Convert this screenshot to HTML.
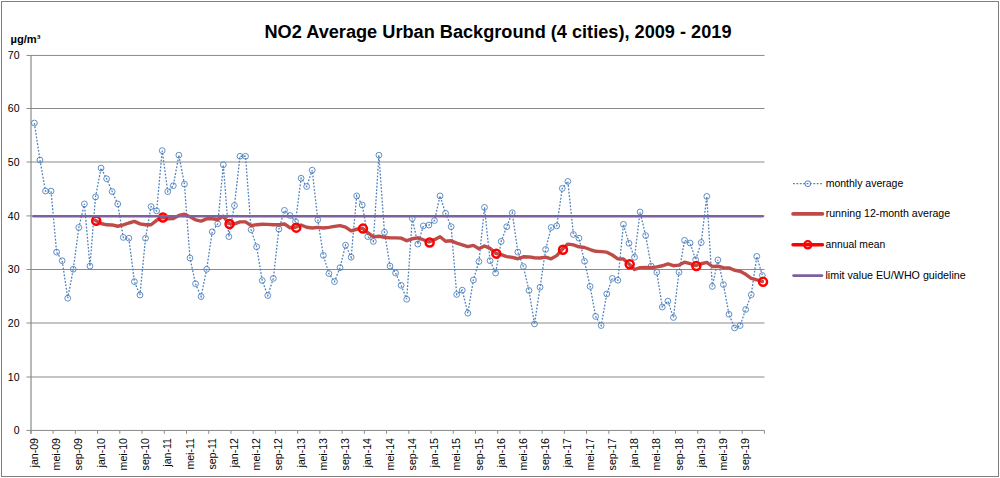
<!DOCTYPE html>
<html><head><meta charset="utf-8"><title>NO2 Average Urban Background</title>
<style>
html,body{margin:0;padding:0;background:#fff;}
body{width:1000px;height:478px;overflow:hidden;font-family:"Liberation Sans",sans-serif;}
svg{display:block;font-family:"Liberation Sans",sans-serif;}
</style></head><body>
<svg width="1000" height="478" viewBox="0 0 1000 478">
<rect x="0" y="0" width="1000" height="478" fill="#fff"/>
<rect x="1.5" y="1.5" width="997" height="475" fill="none" stroke="#808080" stroke-width="1"/>
<g stroke="#8a8a8a" stroke-width="1"><line x1="26.5" y1="430.45" x2="764.5" y2="430.45"/><line x1="26.5" y1="377" x2="764.5" y2="377"/><line x1="26.5" y1="323" x2="764.5" y2="323"/><line x1="26.5" y1="269.5" x2="764.5" y2="269.5"/><line x1="26.5" y1="215.9" x2="764.5" y2="215.9"/><line x1="26.5" y1="162" x2="764.5" y2="162"/><line x1="26.5" y1="108.5" x2="764.5" y2="108.5"/><line x1="26.5" y1="55.45" x2="764.5" y2="55.45"/></g>
<line x1="31" y1="55" x2="31" y2="433.8" stroke="#8a8a8a" stroke-width="1.2"/>
<g stroke="#8c8c8c" stroke-width="1"><line x1="30.9" y1="430.4" x2="30.9" y2="433.8"/><line x1="53.13" y1="430.4" x2="53.13" y2="433.8"/><line x1="75.36" y1="430.4" x2="75.36" y2="433.8"/><line x1="97.58" y1="430.4" x2="97.58" y2="433.8"/><line x1="119.81" y1="430.4" x2="119.81" y2="433.8"/><line x1="142.04" y1="430.4" x2="142.04" y2="433.8"/><line x1="164.27" y1="430.4" x2="164.27" y2="433.8"/><line x1="186.5" y1="430.4" x2="186.5" y2="433.8"/><line x1="208.72" y1="430.4" x2="208.72" y2="433.8"/><line x1="230.95" y1="430.4" x2="230.95" y2="433.8"/><line x1="253.18" y1="430.4" x2="253.18" y2="433.8"/><line x1="275.41" y1="430.4" x2="275.41" y2="433.8"/><line x1="297.64" y1="430.4" x2="297.64" y2="433.8"/><line x1="319.86" y1="430.4" x2="319.86" y2="433.8"/><line x1="342.09" y1="430.4" x2="342.09" y2="433.8"/><line x1="364.32" y1="430.4" x2="364.32" y2="433.8"/><line x1="386.55" y1="430.4" x2="386.55" y2="433.8"/><line x1="408.78" y1="430.4" x2="408.78" y2="433.8"/><line x1="431" y1="430.4" x2="431" y2="433.8"/><line x1="453.23" y1="430.4" x2="453.23" y2="433.8"/><line x1="475.46" y1="430.4" x2="475.46" y2="433.8"/><line x1="497.69" y1="430.4" x2="497.69" y2="433.8"/><line x1="519.92" y1="430.4" x2="519.92" y2="433.8"/><line x1="542.14" y1="430.4" x2="542.14" y2="433.8"/><line x1="564.37" y1="430.4" x2="564.37" y2="433.8"/><line x1="586.6" y1="430.4" x2="586.6" y2="433.8"/><line x1="608.83" y1="430.4" x2="608.83" y2="433.8"/><line x1="631.06" y1="430.4" x2="631.06" y2="433.8"/><line x1="653.28" y1="430.4" x2="653.28" y2="433.8"/><line x1="675.51" y1="430.4" x2="675.51" y2="433.8"/><line x1="697.74" y1="430.4" x2="697.74" y2="433.8"/><line x1="719.97" y1="430.4" x2="719.97" y2="433.8"/><line x1="742.2" y1="430.4" x2="742.2" y2="433.8"/><line x1="764.42" y1="430.4" x2="764.42" y2="433.8"/></g>
<text x="498" y="37.6" text-anchor="middle" font-size="17.6" font-weight="bold" fill="#000" textLength="467" lengthAdjust="spacingAndGlyphs">NO2 Average Urban Background (4 cities), 2009 - 2019</text>
<text x="10.5" y="43.3" font-size="10.5" font-weight="bold" fill="#000" textLength="30" lengthAdjust="spacingAndGlyphs">µg/m³</text>
<g font-size="10.5" fill="#000"><text x="19.5" y="434.15" text-anchor="end">0</text><text x="19.5" y="380.7" text-anchor="end">10</text><text x="19.5" y="326.7" text-anchor="end">20</text><text x="19.5" y="273.2" text-anchor="end">30</text><text x="19.5" y="219.6" text-anchor="end">40</text><text x="19.5" y="165.7" text-anchor="end">50</text><text x="19.5" y="112.2" text-anchor="end">60</text><text x="19.5" y="59.15" text-anchor="end">70</text></g>
<g font-size="10.6" fill="#000"><text transform="translate(37.98,438) rotate(-90)" text-anchor="end">jan-09</text><text transform="translate(60.21,438) rotate(-90)" text-anchor="end">mei-09</text><text transform="translate(82.43,438) rotate(-90)" text-anchor="end">sep-09</text><text transform="translate(104.66,438) rotate(-90)" text-anchor="end">jan-10</text><text transform="translate(126.89,438) rotate(-90)" text-anchor="end">mei-10</text><text transform="translate(149.12,438) rotate(-90)" text-anchor="end">sep-10</text><text transform="translate(171.35,438) rotate(-90)" text-anchor="end">jan-11</text><text transform="translate(193.57,438) rotate(-90)" text-anchor="end">mei-11</text><text transform="translate(215.8,438) rotate(-90)" text-anchor="end">sep-11</text><text transform="translate(238.03,438) rotate(-90)" text-anchor="end">jan-12</text><text transform="translate(260.26,438) rotate(-90)" text-anchor="end">mei-12</text><text transform="translate(282.49,438) rotate(-90)" text-anchor="end">sep-12</text><text transform="translate(304.71,438) rotate(-90)" text-anchor="end">jan-13</text><text transform="translate(326.94,438) rotate(-90)" text-anchor="end">mei-13</text><text transform="translate(349.17,438) rotate(-90)" text-anchor="end">sep-13</text><text transform="translate(371.4,438) rotate(-90)" text-anchor="end">jan-14</text><text transform="translate(393.63,438) rotate(-90)" text-anchor="end">mei-14</text><text transform="translate(415.85,438) rotate(-90)" text-anchor="end">sep-14</text><text transform="translate(438.08,438) rotate(-90)" text-anchor="end">jan-15</text><text transform="translate(460.31,438) rotate(-90)" text-anchor="end">mei-15</text><text transform="translate(482.54,438) rotate(-90)" text-anchor="end">sep-15</text><text transform="translate(504.77,438) rotate(-90)" text-anchor="end">jan-16</text><text transform="translate(526.99,438) rotate(-90)" text-anchor="end">mei-16</text><text transform="translate(549.22,438) rotate(-90)" text-anchor="end">sep-16</text><text transform="translate(571.45,438) rotate(-90)" text-anchor="end">jan-17</text><text transform="translate(593.68,438) rotate(-90)" text-anchor="end">mei-17</text><text transform="translate(615.91,438) rotate(-90)" text-anchor="end">sep-17</text><text transform="translate(638.13,438) rotate(-90)" text-anchor="end">jan-18</text><text transform="translate(660.36,438) rotate(-90)" text-anchor="end">mei-18</text><text transform="translate(682.59,438) rotate(-90)" text-anchor="end">sep-18</text><text transform="translate(704.82,438) rotate(-90)" text-anchor="end">jan-19</text><text transform="translate(727.05,438) rotate(-90)" text-anchor="end">mei-19</text><text transform="translate(749.27,438) rotate(-90)" text-anchor="end">sep-19</text></g>
<polyline points="34.38,123.04 39.94,160 45.49,191.07 51.05,191.07 56.61,252.14 62.16,260.71 67.72,298.21 73.28,269.29 78.83,227.5 84.39,203.93 89.95,266.07 95.51,196.96 101.06,168.04 106.62,178.75 112.18,191.61 117.73,203.93 123.29,237.41 128.85,238.21 134.4,281.61 139.96,295 145.52,238.21 151.08,206.61 156.63,210.89 162.19,150.62 167.75,191.61 173.3,185.71 178.86,155.18 184.42,184.11 189.97,258.04 195.53,283.75 201.09,296.61 206.65,269.29 212.2,231.79 217.76,223.75 223.32,164.82 228.87,236.61 234.43,205.54 239.99,156.25 245.54,156.25 251.1,229.64 256.66,246.79 262.22,280.54 267.77,295.54 273.33,278.39 278.89,229.11 284.44,210.36 290,215.45 295.56,221.61 301.11,178.21 306.67,186.52 312.23,170.18 317.79,219.73 323.34,255.36 328.9,273.57 334.46,281.61 340.01,267.68 345.57,245.18 351.13,257.23 356.68,195.89 362.24,205 367.8,236.61 373.36,241.43 378.91,155.18 384.47,232.32 390.03,266.07 395.58,273.04 401.14,285.36 406.7,299.29 412.25,218.39 417.81,244.11 423.37,225.89 428.93,225.09 434.48,220.54 440.04,195.89 445.6,213.3 451.15,226.7 456.71,294.46 462.27,290.18 467.82,313.21 473.38,280 478.94,261.52 484.5,207.41 490.05,260.71 495.61,273.04 501.17,241.43 506.72,226.7 512.28,212.77 517.84,252.14 523.39,266.61 528.95,290.45 534.51,323.93 540.07,287.23 545.62,249.46 551.18,227.5 556.74,225.89 562.29,188.39 567.85,181.43 573.41,234.46 578.96,238.21 584.52,261.25 590.08,286.43 595.64,316.43 601.19,325.54 606.75,293.93 612.31,278.39 617.86,280.27 623.42,224.29 628.98,243.3 634.53,257.23 640.09,211.96 645.65,235.54 651.21,266.07 656.76,272.23 662.32,307.05 667.88,301.16 673.43,317.5 678.99,272.23 684.55,240.36 690.1,243.04 695.66,259.64 701.22,242.5 706.78,196.43 712.33,286.43 717.89,259.91 723.45,284.55 729,314.29 734.56,327.95 740.12,325.54 745.67,309.46 751.23,294.73 756.79,256.43 762.35,275.45" fill="none" stroke="#4f81bd" stroke-width="1.3" stroke-dasharray="1.8 1.6"/>
<g fill="none" stroke="#4f81bd" stroke-width="0.9"><circle cx="34.38" cy="123.04" r="2.9"/><circle cx="39.94" cy="160" r="2.9"/><circle cx="45.49" cy="191.07" r="2.9"/><circle cx="51.05" cy="191.07" r="2.9"/><circle cx="56.61" cy="252.14" r="2.9"/><circle cx="62.16" cy="260.71" r="2.9"/><circle cx="67.72" cy="298.21" r="2.9"/><circle cx="73.28" cy="269.29" r="2.9"/><circle cx="78.83" cy="227.5" r="2.9"/><circle cx="84.39" cy="203.93" r="2.9"/><circle cx="89.95" cy="266.07" r="2.9"/><circle cx="95.51" cy="196.96" r="2.9"/><circle cx="101.06" cy="168.04" r="2.9"/><circle cx="106.62" cy="178.75" r="2.9"/><circle cx="112.18" cy="191.61" r="2.9"/><circle cx="117.73" cy="203.93" r="2.9"/><circle cx="123.29" cy="237.41" r="2.9"/><circle cx="128.85" cy="238.21" r="2.9"/><circle cx="134.4" cy="281.61" r="2.9"/><circle cx="139.96" cy="295" r="2.9"/><circle cx="145.52" cy="238.21" r="2.9"/><circle cx="151.08" cy="206.61" r="2.9"/><circle cx="156.63" cy="210.89" r="2.9"/><circle cx="162.19" cy="150.62" r="2.9"/><circle cx="167.75" cy="191.61" r="2.9"/><circle cx="173.3" cy="185.71" r="2.9"/><circle cx="178.86" cy="155.18" r="2.9"/><circle cx="184.42" cy="184.11" r="2.9"/><circle cx="189.97" cy="258.04" r="2.9"/><circle cx="195.53" cy="283.75" r="2.9"/><circle cx="201.09" cy="296.61" r="2.9"/><circle cx="206.65" cy="269.29" r="2.9"/><circle cx="212.2" cy="231.79" r="2.9"/><circle cx="217.76" cy="223.75" r="2.9"/><circle cx="223.32" cy="164.82" r="2.9"/><circle cx="228.87" cy="236.61" r="2.9"/><circle cx="234.43" cy="205.54" r="2.9"/><circle cx="239.99" cy="156.25" r="2.9"/><circle cx="245.54" cy="156.25" r="2.9"/><circle cx="251.1" cy="229.64" r="2.9"/><circle cx="256.66" cy="246.79" r="2.9"/><circle cx="262.22" cy="280.54" r="2.9"/><circle cx="267.77" cy="295.54" r="2.9"/><circle cx="273.33" cy="278.39" r="2.9"/><circle cx="278.89" cy="229.11" r="2.9"/><circle cx="284.44" cy="210.36" r="2.9"/><circle cx="290" cy="215.45" r="2.9"/><circle cx="295.56" cy="221.61" r="2.9"/><circle cx="301.11" cy="178.21" r="2.9"/><circle cx="306.67" cy="186.52" r="2.9"/><circle cx="312.23" cy="170.18" r="2.9"/><circle cx="317.79" cy="219.73" r="2.9"/><circle cx="323.34" cy="255.36" r="2.9"/><circle cx="328.9" cy="273.57" r="2.9"/><circle cx="334.46" cy="281.61" r="2.9"/><circle cx="340.01" cy="267.68" r="2.9"/><circle cx="345.57" cy="245.18" r="2.9"/><circle cx="351.13" cy="257.23" r="2.9"/><circle cx="356.68" cy="195.89" r="2.9"/><circle cx="362.24" cy="205" r="2.9"/><circle cx="367.8" cy="236.61" r="2.9"/><circle cx="373.36" cy="241.43" r="2.9"/><circle cx="378.91" cy="155.18" r="2.9"/><circle cx="384.47" cy="232.32" r="2.9"/><circle cx="390.03" cy="266.07" r="2.9"/><circle cx="395.58" cy="273.04" r="2.9"/><circle cx="401.14" cy="285.36" r="2.9"/><circle cx="406.7" cy="299.29" r="2.9"/><circle cx="412.25" cy="218.39" r="2.9"/><circle cx="417.81" cy="244.11" r="2.9"/><circle cx="423.37" cy="225.89" r="2.9"/><circle cx="428.93" cy="225.09" r="2.9"/><circle cx="434.48" cy="220.54" r="2.9"/><circle cx="440.04" cy="195.89" r="2.9"/><circle cx="445.6" cy="213.3" r="2.9"/><circle cx="451.15" cy="226.7" r="2.9"/><circle cx="456.71" cy="294.46" r="2.9"/><circle cx="462.27" cy="290.18" r="2.9"/><circle cx="467.82" cy="313.21" r="2.9"/><circle cx="473.38" cy="280" r="2.9"/><circle cx="478.94" cy="261.52" r="2.9"/><circle cx="484.5" cy="207.41" r="2.9"/><circle cx="490.05" cy="260.71" r="2.9"/><circle cx="495.61" cy="273.04" r="2.9"/><circle cx="501.17" cy="241.43" r="2.9"/><circle cx="506.72" cy="226.7" r="2.9"/><circle cx="512.28" cy="212.77" r="2.9"/><circle cx="517.84" cy="252.14" r="2.9"/><circle cx="523.39" cy="266.61" r="2.9"/><circle cx="528.95" cy="290.45" r="2.9"/><circle cx="534.51" cy="323.93" r="2.9"/><circle cx="540.07" cy="287.23" r="2.9"/><circle cx="545.62" cy="249.46" r="2.9"/><circle cx="551.18" cy="227.5" r="2.9"/><circle cx="556.74" cy="225.89" r="2.9"/><circle cx="562.29" cy="188.39" r="2.9"/><circle cx="567.85" cy="181.43" r="2.9"/><circle cx="573.41" cy="234.46" r="2.9"/><circle cx="578.96" cy="238.21" r="2.9"/><circle cx="584.52" cy="261.25" r="2.9"/><circle cx="590.08" cy="286.43" r="2.9"/><circle cx="595.64" cy="316.43" r="2.9"/><circle cx="601.19" cy="325.54" r="2.9"/><circle cx="606.75" cy="293.93" r="2.9"/><circle cx="612.31" cy="278.39" r="2.9"/><circle cx="617.86" cy="280.27" r="2.9"/><circle cx="623.42" cy="224.29" r="2.9"/><circle cx="628.98" cy="243.3" r="2.9"/><circle cx="634.53" cy="257.23" r="2.9"/><circle cx="640.09" cy="211.96" r="2.9"/><circle cx="645.65" cy="235.54" r="2.9"/><circle cx="651.21" cy="266.07" r="2.9"/><circle cx="656.76" cy="272.23" r="2.9"/><circle cx="662.32" cy="307.05" r="2.9"/><circle cx="667.88" cy="301.16" r="2.9"/><circle cx="673.43" cy="317.5" r="2.9"/><circle cx="678.99" cy="272.23" r="2.9"/><circle cx="684.55" cy="240.36" r="2.9"/><circle cx="690.1" cy="243.04" r="2.9"/><circle cx="695.66" cy="259.64" r="2.9"/><circle cx="701.22" cy="242.5" r="2.9"/><circle cx="706.78" cy="196.43" r="2.9"/><circle cx="712.33" cy="286.43" r="2.9"/><circle cx="717.89" cy="259.91" r="2.9"/><circle cx="723.45" cy="284.55" r="2.9"/><circle cx="729" cy="314.29" r="2.9"/><circle cx="734.56" cy="327.95" r="2.9"/><circle cx="740.12" cy="325.54" r="2.9"/><circle cx="745.67" cy="309.46" r="2.9"/><circle cx="751.23" cy="294.73" r="2.9"/><circle cx="756.79" cy="256.43" r="2.9"/><circle cx="762.35" cy="275.45" r="2.9"/></g>
<polyline points="95.51,220.4 101.06,223.48 106.62,224.8 112.18,224.96 117.73,226.27 123.29,224.88 128.85,223 134.4,221.37 139.96,223.92 145.52,224.77 151.08,224.74 156.63,220.3 162.19,217.17 167.75,218.82 173.3,218.44 178.86,215.45 184.42,214.22 189.97,216.69 195.53,219.79 201.09,221.08 206.65,218.81 212.2,218.81 217.76,219.52 223.32,216.26 228.87,223.59 234.43,223.91 239.99,221.87 245.54,221.92 251.1,225.56 256.66,224.69 262.22,224.29 267.77,224.37 273.33,224.78 278.89,224.78 284.44,223.95 290,227.75 295.56,227.23 301.11,224.97 306.67,227.25 312.23,228.01 317.79,227.41 323.34,227.96 328.9,227.4 334.46,226.39 340.01,225.57 345.57,227.04 351.13,230.87 356.68,229.25 362.24,228.19 367.8,232.73 373.36,236.92 378.91,236.3 384.47,237.2 390.03,237.91 395.58,237.89 401.14,238.15 406.7,240.7 412.25,238.78 417.81,237.81 423.37,239.75 428.93,242.04 434.48,239.65 440.04,236.69 445.6,241.25 451.15,240.75 456.71,243.11 462.27,244.79 467.82,246.59 473.38,245.41 478.94,248.82 484.5,245.95 490.05,248.39 495.61,253.25 501.17,254.55 506.72,256.64 512.28,257.42 517.84,258.75 523.39,256.79 528.95,256.93 534.51,257.7 540.07,258 545.62,257.15 551.18,258.79 556.74,255.62 562.29,249.29 567.85,244.11 573.41,244.83 578.96,246.78 584.52,247.5 590.08,249.51 595.64,251.31 601.19,251.62 606.75,252.14 612.31,255.01 617.86,258.81 623.42,258.99 628.98,263.93 634.53,269.5 640.09,267.62 645.65,267.51 651.21,267.71 656.76,266.85 662.32,265.77 667.88,263.84 673.43,265.73 678.99,265.1 684.55,262.15 690.1,263.68 695.66,265.65 701.22,263.75 706.78,262.35 712.33,266.51 717.89,266.25 723.45,267.62 729,267.92 734.56,270.3 740.12,271.25 745.67,274.33 751.23,278.47 756.79,279.78 762.35,281.45" fill="none" stroke="#be4b48" stroke-width="3.4" stroke-linejoin="round" stroke-linecap="round"/>
<g fill="none" stroke="#ff0000" stroke-width="2.5"><circle cx="96.21" cy="220.8" r="4.0"/><circle cx="162.89" cy="217.57" r="4.0"/><circle cx="229.57" cy="223.99" r="4.0"/><circle cx="296.26" cy="227.63" r="4.0"/><circle cx="362.94" cy="228.59" r="4.0"/><circle cx="429.63" cy="242.44" r="4.0"/><circle cx="496.31" cy="253.65" r="4.0"/><circle cx="562.99" cy="249.69" r="4.0"/><circle cx="629.68" cy="264.33" r="4.0"/><circle cx="696.36" cy="266.05" r="4.0"/><circle cx="763.05" cy="281.85" r="4.0"/></g>
<line x1="33.5" y1="216.3" x2="762.5" y2="216.3" stroke="#7d60a0" stroke-width="2.5" stroke-linecap="round"/>
<!-- legend -->
<line x1="793" y1="183.7" x2="823" y2="183.7" stroke="#4f81bd" stroke-width="1.3" stroke-dasharray="1.8 1.6"/>
<circle cx="807.8" cy="183.7" r="2.9" fill="none" stroke="#4f81bd" stroke-width="1"/>
<line x1="793" y1="213.9" x2="822.5" y2="213.9" stroke="#be4b48" stroke-width="3.6" stroke-linecap="round"/>
<line x1="793" y1="244.8" x2="822.5" y2="244.8" stroke="#ff0000" stroke-width="3.4" stroke-linecap="round"/>
<circle cx="807.8" cy="244.8" r="3.6" fill="none" stroke="#ff0000" stroke-width="2.3"/>
<line x1="793.5" y1="275.6" x2="822" y2="275.6" stroke="#7d60a0" stroke-width="2.6" stroke-linecap="round"/>
<g font-size="10.3" fill="#000">
<text x="825.7" y="186.8" textLength="77.6" lengthAdjust="spacingAndGlyphs">monthly average</text>
<text x="825.7" y="217.3" textLength="124.5" lengthAdjust="spacingAndGlyphs">running 12-month average</text>
<text x="825.5" y="248.2" textLength="59.7" lengthAdjust="spacingAndGlyphs">annual mean</text>
<text x="825.5" y="278.7" textLength="140.2" lengthAdjust="spacingAndGlyphs">limit value EU/WHO  guideline</text>
</g>
</svg>
</body></html>
